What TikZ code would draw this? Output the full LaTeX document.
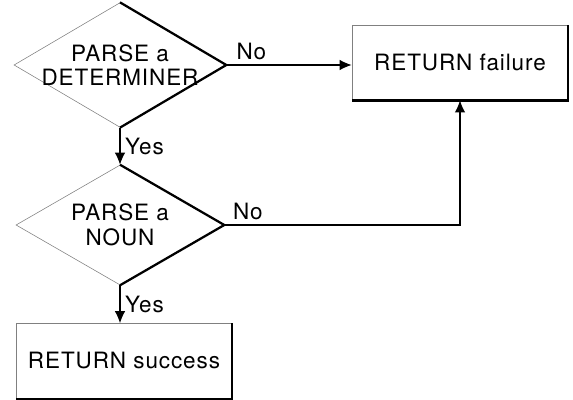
\documentclass[tikz,border=0pt]{standalone}
\usepackage{fontspec}
\setsansfont[LetterSpace=4]{TeX Gyre Heros}
\usetikzlibrary{shapes.geometric,arrows.meta}

\begin{document}
\begin{tikzpicture}
      \tikzset{
        node distance=4cm,
        every node/.style={font=\sffamily\fontsize{16}{17.5}\selectfont},
        test/.style={diamond,draw=gray,line width=0.4pt,inner sep=-2pt,aspect=1.7,
          minimum width=5.2cm,minimum height=3cm,align=center},
        result/.style={rectangle,draw=gray,line width=0.4pt,
          minimum width=5.4cm,minimum height=1.875cm},
        flow/.style={line width=0.8pt,-{Latex[length=3mm,width=2.6mm]}},
        heavy/.style={line width=1.6pt,line join=miter}
      }
      \useasboundingbox (0,0) rectangle (14.325,-10);

      \node[test] (det) at (3,-1.625) {PARSE a\\DETERMINER};
      \node[test,below of=det] (noun) {PARSE a\\NOUN};
      \node[result,below of=noun,node distance=3.4cm,xshift=0.1cm] (succ) {RETURN success};
      \node[result,right of=det,node distance=8.5cm,yshift=0.06cm] (fail) {RETURN failure};

      % heavy right-hand edges
      \draw[heavy] (det.north) -- (det.east) -- (det.south);
      \draw[heavy] (noun.north) -- (noun.east) -- (noun.south);
      \draw[heavy] (succ.north east) -- (succ.south east) -- (succ.south west);
      \draw[heavy] (fail.north east) -- (fail.south east) -- (fail.south west);

      \draw[flow] (det.south) -- node[right] {Yes} (noun.north);
      \draw[flow] (det.east) -- node[pos=0.2,above] {No} (det.east -| fail.west);
      \draw[flow] (noun.east) -| node[pos=0.05,above] {No} (fail.south);
      \draw[flow] (noun.south) -- node[right] {Yes} (noun.south |- succ.north);
    \end{tikzpicture}
\end{document}
